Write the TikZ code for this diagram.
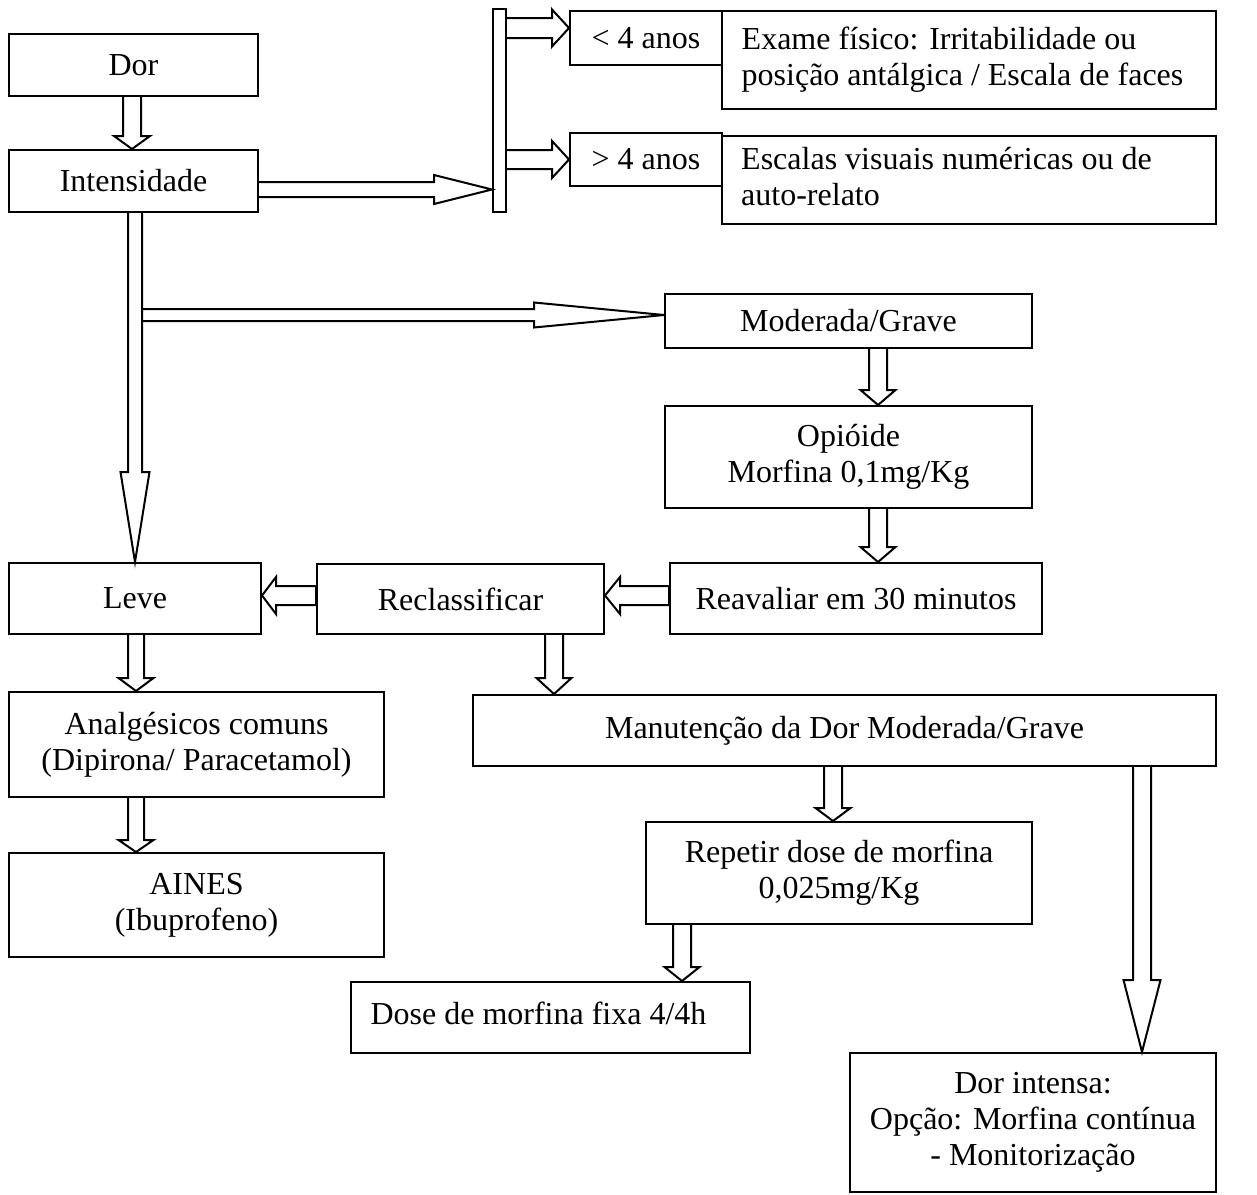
\documentclass[tikz,border=0pt]{standalone}
\usepackage{fontspec}
\setmainfont{Liberation Serif}

\tikzset{
  box/.style={draw, line width=1pt, inner sep=0pt, align=center,
              font=\fontsize{16}{18}\selectfont},
  blk/.style={draw, line width=1pt, line join=miter},
}

% box from its corner positions: [options]{name}{x1}{y1}{x2}{y2}{text}
\newcommand\flowbox[7][]{%
  \pgfmathsetmacro\bxc{(#3+#5)/2}\pgfmathsetmacro\byc{(#4+#6)/2}%
  \pgfmathsetmacro\bxw{(#5-#3)*0.5}\pgfmathsetmacro\byh{(#6-#4)*0.5}%
  \node[box, minimum width=\bxw pt, minimum height=\byh pt, #1] (#2) at (\bxc,\byc) {#7};}

% left-aligned lines, pushed left inside the box by half of #1
\newcommand\leftlines[2]{\begin{tabular}{@{}l@{}}#2\end{tabular}\hspace*{#1}}

% downward block arrow: {from}{to}{x}{shaft half-width}{head half-width}{head start y}
\newcommand\downblock[6]{%
  \pgfmathsetmacro\la{#3-#4}\pgfmathsetmacro\ra{#3+#4}%
  \pgfmathsetmacro\lh{#3-#5}\pgfmathsetmacro\rh{#3+#5}%
  \draw[blk] (\la,0 |- #1.south) -- (\la,#6) -- (\lh,#6) -- (#3,0 |- #2.north)
     -- (\rh,#6) -- (\ra,#6) -- (\ra,0 |- #1.south);}

% rightward block arrow: {from point}{to point}{y}{shaft half-width}{head half-width}{head start x}
\newcommand\rightblock[6]{%
  \pgfmathsetmacro\ta{#3-#4}\pgfmathsetmacro\ba{#3+#4}%
  \pgfmathsetmacro\th{#3-#5}\pgfmathsetmacro\bh{#3+#5}%
  \draw[blk] (#1 |- 0,\ta) -- (#6,\ta) -- (#6,\th) -- (#2 |- 0,#3)
     -- (#6,\bh) -- (#6,\ba) -- (#1 |- 0,\ba);}

% leftward block arrow with closed tail: {from point}{to point}{y}{shaft half}{head half}{head start x}
\newcommand\leftblock[6]{%
  \pgfmathsetmacro\ta{#3-#4}\pgfmathsetmacro\ba{#3+#4}%
  \pgfmathsetmacro\th{#3-#5}\pgfmathsetmacro\bh{#3+#5}%
  \draw[blk] (#1 |- 0,\ta) -- (#6,\ta) -- (#6,\th) -- (#2 |- 0,#3)
     -- (#6,\bh) -- (#6,\ba) -- (#1 |- 0,\ba) -- cycle;}

\begin{document}
\begin{tikzpicture}[x=0.5pt, y=-0.5pt]
\useasboundingbox (0,0) rectangle (1257,1194);

% boxes
\flowbox{dor}{9}{34}{258}{96}{Dor}
\flowbox{intens}{9}{150}{258}{212}{Intensidade}
\flowbox{bar}{493}{9}{506}{212}{}
\flowbox{lt4}{570}{11}{722}{65}{< 4 anos}
\flowbox{gt4}{570}{133}{722}{186}{> 4 anos}
\flowbox{exame}{722}{11}{1216}{109}{\leftlines{6.5pt}{Exame físico: Irritabilidade ou\\posição antálgica / Escala de faces}}
\flowbox{escalas}{722}{136}{1216}{224}{\leftlines{22.5pt}{Escalas visuais numéricas ou de\\auto-relato}}
\flowbox{modgrave}{665}{294}{1032}{348}{Moderada/Grave}
\flowbox{opioide}{665}{406}{1032}{508}{Opióide\\Morfina 0,1mg/Kg}
\flowbox{reav}{670}{563}{1042}{634}{Reavaliar em 30 minutos}
\flowbox{leve}{9}{563}{261}{634}{Leve}
\flowbox{recl}{317}{564}{604}{634}{Reclassificar}
\flowbox{analg}{9}{692}{384}{797}{Analgésicos comuns\\(Dipirona/ Paracetamol)}
\flowbox{aines}{9}{853}{384}{957}{AINES\\(Ibuprofeno)}
\flowbox{manut}{473}{695}{1216}{766}{Manutenção da Dor Moderada/Grave}
\flowbox{repetir}{646}{822}{1032}{924}{Repetir dose de morfina\\0,025mg/Kg}
\flowbox{dosefixa}{351}{982}{750}{1053}{\leftlines{12pt}{Dose de morfina fixa 4/4h}}
\flowbox{intensa}{850}{1053}{1216}{1192}{Dor intensa:\\Opção: Morfina contínua\\- Monitorização}

% block arrows
\downblock{dor}{intens}{132}{9}{18}{136}
\rightblock{intens.east}{bar.west}{189.5}{7.5}{14.5}{434}
\rightblock{bar.east}{lt4.west}{28}{10}{18.5}{552}
\rightblock{bar.east}{gt4.west}{159.5}{9.5}{18.5}{552}
\downblock{intens}{leve}{135}{7}{14.5}{472}
\coordinate (fork) at (142,315);
\rightblock{fork}{modgrave.west}{315}{6}{12.5}{534}
\downblock{modgrave}{opioide}{878}{9}{17.5}{390}
\downblock{opioide}{reav}{878}{9}{17.5}{547}
\leftblock{reav.west}{recl.east}{595.5}{9.5}{18.5}{620}
\leftblock{recl.west}{leve.east}{595.5}{9.5}{18.5}{276}
\downblock{recl}{manut}{554}{9}{17.5}{678}
\downblock{leve}{analg}{136}{8}{17.5}{678}
\downblock{analg}{aines}{136}{8}{17.5}{840}
\downblock{manut}{repetir}{833}{9}{17.5}{808}
\downblock{repetir}{dosefixa}{682}{9}{17.5}{967}
\downblock{manut}{intensa}{1142}{9}{18.5}{980}
\end{tikzpicture}
\end{document}
